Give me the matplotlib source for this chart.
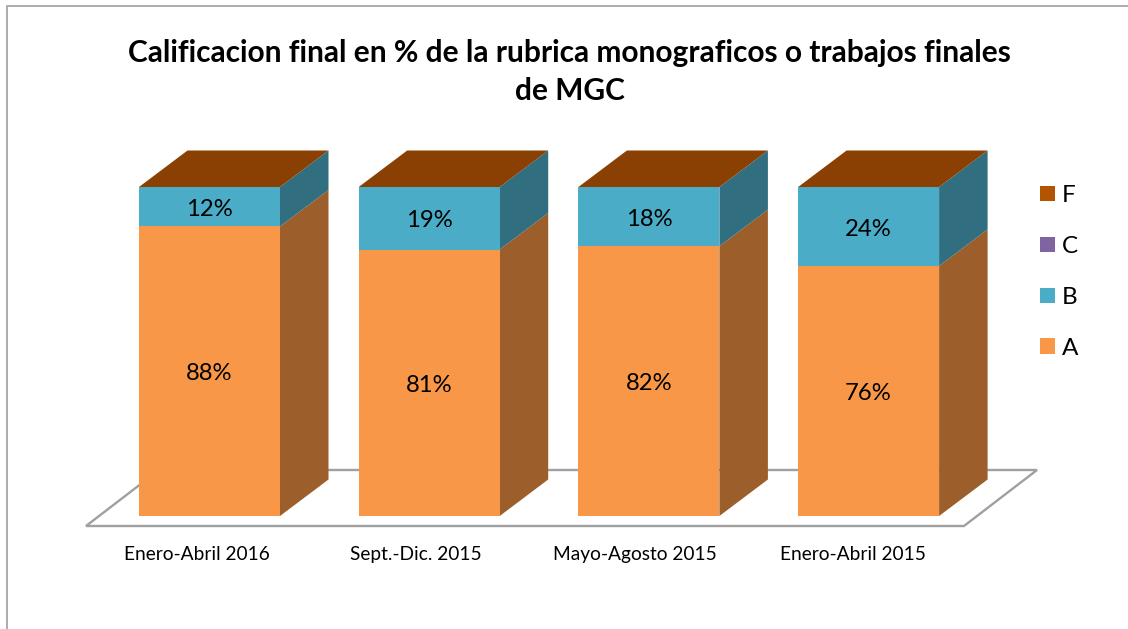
#!/usr/bin/env python3
"""Stacked pseudo-3D columns: final grades (%) of the MGC rubric per term."""
import matplotlib
matplotlib.use("Agg")
import matplotlib.pyplot as plt
from matplotlib.patches import Patch, Polygon, Rectangle
from matplotlib.transforms import Affine2D

plt.rcParams['font.family'] = ['Lato', 'DejaVu Sans']

# --------------------------------------------------------------------------- #
# data                                                                        #
# --------------------------------------------------------------------------- #
periods = ["Enero-Abril 2016", "Sept.-Dic. 2015", "Mayo-Agosto 2015", "Enero-Abril 2015"]
grade_a = [88, 81, 82, 76]
grade_b = [12, 19, 18, 24]
grade_c = [0, 0, 0, 0]
grade_f = [0, 0, 0, 0]

title = "Calificacion final en % de la rubrica monograficos o trabajos finales\nde MGC"

# front colour, side colour
series = [
    ("A", grade_a, "#F99748", "#9C5E2B"),
    ("B", grade_b, "#4AACC7", "#316E7F"),
    ("C", grade_c, "#8064A2", "#4F3E65"),
    ("F", grade_f, "#B25400", "#8A4002"),
]

# --------------------------------------------------------------------------- #
# axes: x is the period index, y is percent, both scaled to the picture       #
# --------------------------------------------------------------------------- #
W, H = 1128, 629
STEP = 219.7      # px per category
CX0 = 209.5       # px, centre of first column
Y0 = 516          # px, 0 %
PX_PCT = 3.29     # px per percent

fig = plt.figure(figsize=(W / 100, H / 100), dpi=100)
ax = fig.add_axes([0, 0, 1, 1])
ax.set_xlim(-CX0 / STEP, (W - CX0) / STEP)
ax.set_ylim((Y0 - H) / PX_PCT, Y0 / PX_PCT)
ax.axis("off")

px = Affine2D().scale(1, -1).translate(0, H)   # pixel coords, origin top left

BAR_W = 141 / STEP
DX = 48.5 / STEP
DY = 36.5 / PX_PCT
LABEL_STEP = 218.7 / STEP   # the axis labels sit a bit closer than the columns

# chart frame, only left and top are inside the crop
ax.plot([7, 7, W], [H, 6, 6], transform=px, color="#A6A6A6", lw=1.3, clip_on=False)

# floor
ax.add_patch(Polygon([(86, 526), (964, 526), (1037, 470), (159, 470)], closed=True,
                     facecolor="white", edgecolor="#A0A0A0", lw=1.7, transform=px))

# --------------------------------------------------------------------------- #
# columns                                                                     #
# --------------------------------------------------------------------------- #
for i in range(len(periods)):
    left, right = i - BAR_W / 2, i + BAR_W / 2
    base = 0
    for name, values, front, side in series:
        v = values[i]
        if v == 0:
            continue
        top = base + v
        ax.add_patch(Polygon([(right, base), (right + DX, base + DY),
                              (right + DX, top + DY), (right, top)],
                             closed=True, facecolor=side, edgecolor="none"))
        ax.add_patch(Rectangle((left, base), BAR_W, v, facecolor=front, edgecolor="none"))
        ax.text(i, base + v / 2 - 0.8, f"{v}%", ha="center", va="center", fontsize=17.2, color="black")
        base = top
    # lid takes the colour of the (empty) top series
    ax.add_patch(Polygon([(left, base), (right, base), (right + DX, base + DY), (left + DX, base + DY)],
                         closed=True, facecolor="#8A4002", edgecolor="none"))
    ax.text(i * LABEL_STEP - 12.5 / STEP, -11.8, periods[i], ha="center", va="center",
            fontsize=13.8, color="black")

# --------------------------------------------------------------------------- #
# title + legend                                                              #
# --------------------------------------------------------------------------- #
ax.text(569.5, 72, title, transform=px, ha="center", va="center", fontsize=21.5,
        fontweight="bold", color="black", linespacing=1.42)

handles = [Patch(facecolor=s[2], label=s[0]) for s in reversed(series)]
ax.legend(handles=handles, frameon=False, fontsize=17.5, loc="center left",
          bbox_to_anchor=(1040 / W, 1 - 272 / H), borderpad=0, borderaxespad=0,
          handlelength=0.62, handleheight=0.62, handletextpad=0.28, labelspacing=1.23)

fig.savefig("out.png", dpi=100)
